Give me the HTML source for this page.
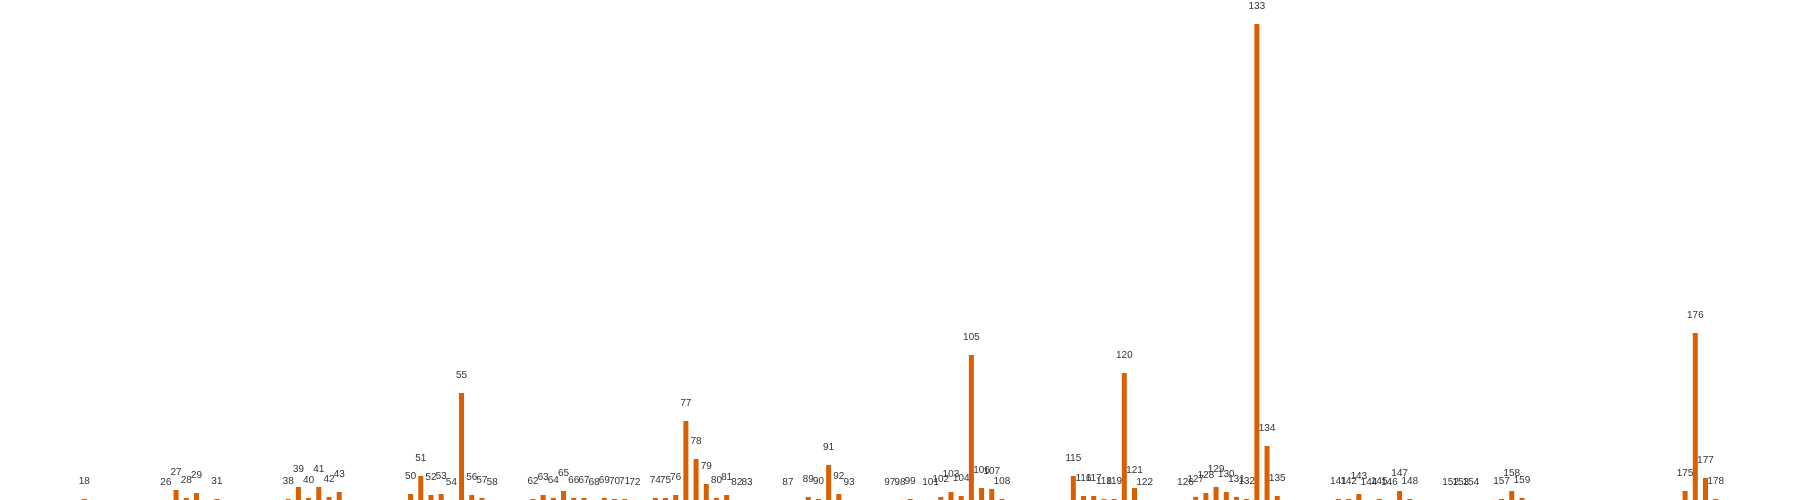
<!DOCTYPE html>
<html><head><meta charset="utf-8"><style>
html,body{margin:0;padding:0;background:#fff;width:1800px;height:500px;overflow:hidden}
svg{display:block}
text{font-family:"Liberation Sans",sans-serif;font-size:10px;fill:#333}
</style></head><body>
<svg id="chart" width="1800" height="500"></svg>
<script>
const categories=[18,26,27,28,29,31,38,39,40,41,42,43,50,51,52,53,54,55,56,57,58,62,63,64,65,66,67,68,69,70,71,72,74,75,76,77,78,79,80,81,82,83,87,89,90,91,92,93,97,98,99,101,102,103,104,105,106,107,108,115,116,117,118,119,120,121,122,126,127,128,129,130,131,132,133,134,135,141,142,143,144,145,146,147,148,152,153,154,157,158,159,175,176,177,178];
const values=[1,0,10,2,7,1,1,13,2,13,3,8,6,24,5,6,0,107,5,2,0,1,5,2,9,2,2,0,2,1,1,0,2,2,5,79,41,16,2,5,0,0,0,3,1,35,6,0,0,0,1,0,3,8,4,145,12,11,1,24,4,4,1,1,127,12,0,0,3,7,13,8,3,1,476,54,4,1,1,6,0,1,0,9,1,0,0,0,1,9,2,9,167,22,1];
const xDomain=[18,176];
const yDomain=[0,476];
const xRange=[84.3,1695.3];
const baseY=500, topY=24;
function xScale(i){return xRange[0]+(i-xDomain[0])*(xRange[1]-xRange[0])/(xDomain[1]-xDomain[0]);}
function yScale(v){return baseY-(v-yDomain[0])*(baseY-topY)/(yDomain[1]-yDomain[0]);}
const svg=document.getElementById('chart');
const NS='http://www.w3.org/2000/svg';
const bw=5;
categories.forEach((c,k)=>{
  const v=values[k];
  const x=xScale(c), y=yScale(v);
  if(v>0){
    const r=document.createElementNS(NS,'rect');
    r.setAttribute('x',x-bw/2);r.setAttribute('y',y);
    r.setAttribute('width',bw);r.setAttribute('height',baseY-y);
    r.setAttribute('fill','#d95f02');
    
    
    svg.appendChild(r);
  }
  const t=document.createElementNS(NS,'text');
  t.setAttribute('x',x);t.setAttribute('y',y-15);
  t.setAttribute('text-anchor','middle');
  t.textContent=c;
  
  
  svg.appendChild(t);
});
</script>
</body></html>
